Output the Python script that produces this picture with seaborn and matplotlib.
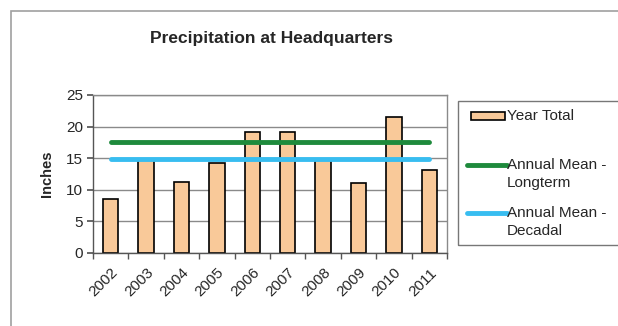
import numpy as np
import pandas as pd
import matplotlib
matplotlib.use("Agg")
import matplotlib.pyplot as plt
from matplotlib.patches import Rectangle
from matplotlib.lines import Line2D
import seaborn as sns

# data
years = ["2002", "2003", "2004", "2005", "2006", "2007", "2008", "2009", "2010", "2011"]
year_total = [8.6, 14.8, 11.2, 14.2, 19.1, 19.1, 14.8, 11.0, 21.5, 13.1]
longterm_mean = 17.5
decadal_mean = 14.8

bar_color = "#F9C999"
green = "#1E8A3C"
cyan = "#38BDF0"

sns.set_theme(style="white")
plt.rcParams["font.family"] = ["Liberation Sans", "DejaVu Sans"]

W, H = 618, 326
fig = plt.figure(figsize=(W / 100, H / 100), dpi=100)


def fx(px):
    return px / W


def fy(py):
    return 1 - py / H


# outer chart frame, runs off the right and bottom edges like the reference
fig.patches.append(Rectangle((fx(11), -0.05), 1.2, fy(11) + 0.05,
                             transform=fig.transFigure, fill=False,
                             edgecolor="#A0A0A0", linewidth=1.2))

ax = fig.add_axes([fx(93), fy(253), (447 - 93) / W, (253 - 95) / H])

df = pd.DataFrame({"year": years, "total": year_total})
sns.barplot(data=df, x="year", y="total", color=bar_color, width=0.43,
            edgecolor="black", linewidth=1.2, saturation=1, ax=ax, zorder=2)

n = len(years)
ax.plot(np.arange(n), np.full(n, longterm_mean), color=green, linewidth=3.5, zorder=3)
ax.plot(np.arange(n), np.full(n, decadal_mean), color=cyan, linewidth=3.5, zorder=3)

ax.set_xlim(-0.5, n - 0.5)
ax.set_ylim(0, 25)
ax.set_yticks([0, 5, 10, 15, 20, 25])
ax.yaxis.grid(True, color="#8A8A8A", linewidth=1)
ax.set_axisbelow(True)
for s in ["top", "right"]:
    ax.spines[s].set_color("#8A8A8A")
    ax.spines[s].set_linewidth(1)
for s in ["left", "bottom"]:
    ax.spines[s].set_color("#555555")
    ax.spines[s].set_linewidth(1)

# Excel-style ticks between categories
ax.set_xticks(np.arange(n))
ax.set_xticklabels(years, rotation=45, ha="right", rotation_mode="anchor", fontsize=11)
ax.set_xticks(np.arange(n + 1) - 0.5, minor=True)
ax.tick_params(axis="x", which="major", length=0, pad=9)
ax.tick_params(axis="x", which="minor", length=4, direction="out", color="#555555", bottom=True)
ax.tick_params(axis="y", length=4, direction="out", color="#555555", labelsize=11, left=True, pad=3)

ax.set_xlabel("")
ax.set_ylabel("Inches", fontsize=10.5, fontweight="bold", labelpad=9)

fig.text(fx(271), fy(38), "Precipitation at Headquarters", ha="center", va="center",
         fontsize=12.5, fontweight="bold")

# legend drawn by hand, Excel style: handle beside the first text line
fig.patches.append(Rectangle((fx(458), fy(245)), 0.4, (245 - 101) / H,
                             transform=fig.transFigure, fill=False,
                             edgecolor="#777777", linewidth=1))
fig.patches.append(Rectangle((fx(471), fy(120)), (505 - 471) / W, 8 / H,
                             transform=fig.transFigure, facecolor=bar_color,
                             edgecolor="black", linewidth=1.2))
fig.text(fx(507), fy(116), "Year Total", ha="left", va="center", fontsize=11)
for color, y0, lines in [(green, 165, ["Annual Mean -", "Longterm"]),
                         (cyan, 213, ["Annual Mean -", "Decadal"])]:
    fig.add_artist(Line2D([fx(467), fx(507)], [fy(y0), fy(y0)], color=color,
                          linewidth=3.5, transform=fig.transFigure))
    for i, line in enumerate(lines):
        fig.text(fx(507), fy(y0 + 18 * i), line, ha="left", va="center", fontsize=11)

fig.savefig("out.png", dpi=100)
